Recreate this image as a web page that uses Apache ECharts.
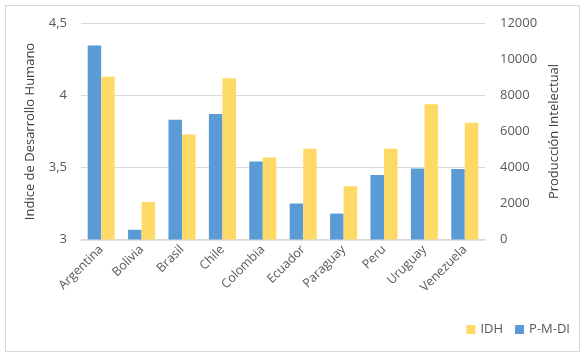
<!DOCTYPE html>
<html><head><meta charset="utf-8">
<script src="https://cdn.jsdelivr.net/npm/echarts@6/dist/echarts.min.js"></script>
<style>html,body{margin:0;padding:0;background:#fff}#c{width:587px;height:359px}
#frame{position:absolute;left:5px;top:5px;width:573px;height:345px;border:1.5px solid #d9d9d9;pointer-events:none}</style>
</head><body><div id="c"></div><div id="frame"></div>
<script>
const categories = ['Argentina','Bolivia','Brasil','Chile','Colombia','Ecuador','Paraguay','Peru','Uruguay','Venezuela'];
const idh = [4.13, 3.26, 3.73, 4.12, 3.57, 3.63, 3.37, 3.63, 3.94, 3.81];
const pmdi = [10780, 540, 6650, 6970, 4330, 2000, 1440, 3590, 3940, 3910];
const leftTicks = {min: 3, max: 4.5, interval: 0.5};
const rightTicks = {min: 0, max: 12000, interval: 2000};

const font = 'Open Sans';
const txt = '#595959';
const chart = echarts.init(document.getElementById('c'));
chart.setOption({
  animation: false,
  textStyle: {fontFamily: font},
  grid: {left: 81, right: 102, top: 23.5, bottom: 119.5, containLabel: false},
  legend: {
    data: ['IDH', 'P-M-DI'], right: 12, top: 318, itemWidth: 9, itemHeight: 9, itemGap: 12,
    icon: 'rect', textStyle: {color: txt, fontSize: 13, fontFamily: font}
  },
  xAxis: {
    type: 'category', data: categories,
    axisLine: {lineStyle: {color: '#d9d9d9', width: 1.5}},
    axisTick: {show: false},
    axisLabel: {rotate: 45, color: txt, fontSize: 12.5, fontFamily: font, interval: 0, margin: 8}
  },
  yAxis: [
    {type: 'value', min: leftTicks.min, max: leftTicks.max, interval: leftTicks.interval,
     name: 'Indice de Desarrollo Humano', nameLocation: 'middle', nameGap: 44, nameRotate: 90,
     nameTextStyle: {color: '#404040', fontSize: 13, fontFamily: font},
     axisLine: {show: false}, axisTick: {show: false},
     axisLabel: {color: txt, fontSize: 13, fontFamily: font, margin: 14, formatter: v => String(v).replace('.', ',')},
     splitLine: {lineStyle: {color: '#d9d9d9', width: 1}}},
    {type: 'value', min: rightTicks.min, max: rightTicks.max, interval: rightTicks.interval,
     name: 'Producción Intelectual', nameLocation: 'middle', nameGap: 62, nameRotate: 90,
     nameTextStyle: {color: '#404040', fontSize: 13, fontFamily: font},
     axisLine: {show: false}, axisTick: {show: false},
     axisLabel: {color: txt, fontSize: 13, fontFamily: font, margin: 15, formatter: v => String(v)},
     splitLine: {show: false}}
  ],
  series: [
    {name: 'P-M-DI', type: 'bar', yAxisIndex: 1, data: pmdi, barGap: '0%', barCategoryGap: '33%',
     itemStyle: {color: '#5b9bd5'}},
    {name: 'IDH', type: 'bar', yAxisIndex: 0, data: idh, barGap: '0%', barCategoryGap: '33%',
     itemStyle: {color: '#ffd966'}}
  ]
});
</script></body></html>
